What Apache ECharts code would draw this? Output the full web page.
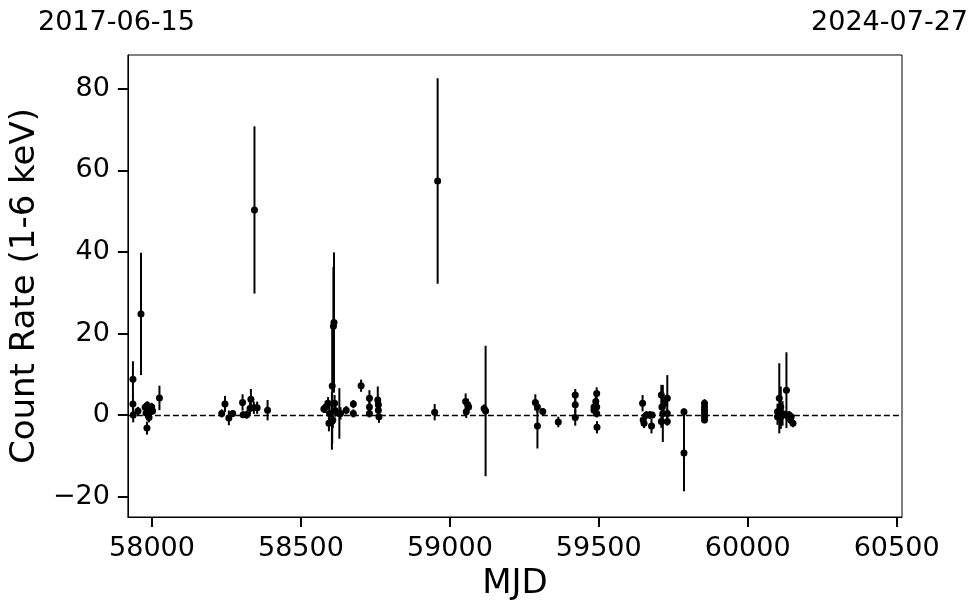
<!DOCTYPE html>
<html>
<head>
<meta charset="utf-8">
<script src="https://cdn.jsdelivr.net/npm/echarts@6/dist/echarts.min.js"></script>
<style>
html,body{margin:0;padding:0;background:#fff;}
#chart{width:980px;height:613px;}
</style>
</head>
<body>
<div id="chart"></div>
<script>
const mjd = [
57936,57936,57937,57963,57953,57977,57980,57983,57984,57986,57990,57993,57996,57999,58002,58025,
58234,58245,58258,58271,58304,58306,58318,58329,58332,58342,58344,58353,58388,
58577,58583,58591,58594,58596,58604,58605,58607,58609,58611,58613,58615,58629,58633,58652,58676,58676,58702,58730,58730,58730,58758,58760,58760,58762,
58949,58959,59053,59055,59060,59063,59115,59120,59287,59294,59294,59312,59364,59421,59421,59421,59484,59484,59490,59493,59493,59493,59494,
59647,59649,59652,59660,59671,59677,59679,59710,59710,59712,59715,59721,59730,59730,59730,59786,59786,59855,59855,59855,59855,59855,59855,
60100,60100,60106,60111,60111,60117,60128,60130,60139,60144,60146,60152
];
const rate = [
8.8,2.7,0.0,24.8,1.0,1.9,0.5,-3.2,2.4,1.2,-0.6,1.6,0.9,2.0,1.0,4.2,
0.4,2.7,-0.7,0.4,3.1,0.1,0.1,1.6,3.9,1.8,50.3,1.8,1.2,
1.5,2.0,2.9,-2.0,0.4,-1.5,7.1,-1.2,21.8,22.7,2.9,1.1,0.4,0.4,1.2,2.7,0.4,7.2,4.1,2.0,0.4,3.7,2.5,1.2,-0.4,
0.7,57.4,3.3,0.8,2.5,2.0,1.6,1.0,3.1,2.0,-2.7,0.9,-1.7,4.9,2.5,-0.6,2.0,1.2,3.3,5.3,2.0,0.4,-3.0,
2.9,-1.2,-2.0,0.0,0.0,-2.7,0.0,4.9,-1.6,2.0,0.4,2.9,4.1,0.4,-1.6,0.8,-9.3,2.9,2.0,1.2,0.4,-0.4,-1.2,
0.8,-0.4,4.1,2.0,-0.4,0.4,0.0,6.1,0.0,-1.2,-0.4,-2.0
];
const err = [
4.4,2.5,1.8,15.0,1.0,1.0,1.2,1.6,1.0,1.0,1.2,1.0,1.0,1.0,0.8,3.0,
1.0,2.0,1.8,0.8,2.0,0.8,1.0,1.5,2.5,1.5,20.5,1.5,2.5,
1.0,1.5,1.5,2.0,2.0,7.0,14.0,2.0,14.5,17.2,2.0,1.5,6.2,1.5,1.0,1.0,1.0,1.5,2.0,2.0,1.0,3.3,2.0,2.0,1.5,
2.0,25.2,2.0,1.5,1.5,1.0,1.0,16.0,2.0,1.5,5.5,0.8,1.3,1.5,2.0,2.0,1.5,1.5,2.0,1.5,1.5,1.0,1.5,
2.0,1.5,1.2,1.0,1.0,1.8,0.8,2.5,1.5,5.0,7.0,1.5,5.7,1.0,1.0,0.8,9.4,1.0,1.0,1.0,1.0,1.0,0.8,
2.0,2.0,8.6,5.0,3.0,3.0,1.0,9.3,1.0,1.0,1.0,1.0
];
const xTicks = [58000,58500,59000,59500,60000,60500];
const yTicks = [-20,0,20,40,60,80];
const startDate = '2017-06-15';
const endDate = '2024-07-27';
const xMin = 57919, xMax = 60518;
const yMin = -25, yMax = 88.3;

const pts = mjd.map((m,i)=>[m, rate[i]]);
const bars = mjd.map((m,i)=>[m, rate[i]-err[i], rate[i]+err[i]]);

const font = 'DejaVu Sans';
const chart = echarts.init(document.getElementById('chart'), null, {renderer:'canvas'});
chart.setOption({
  animation:false,
  backgroundColor:'#fff',
  grid:{left:127,right:78,top:55,bottom:96,show:true,borderColor:'#000',borderWidth:1,backgroundColor:'transparent'},
  graphic:[
    {type:'text',x:38,y:23,style:{text:startDate,font:'27px "DejaVu Sans"',fill:'#000',textAlign:'left',textVerticalAlign:'middle'}},
    {type:'text',x:968,y:23,style:{text:endDate,font:'27px "DejaVu Sans"',fill:'#000',textAlign:'right',textVerticalAlign:'middle'}}
  ],
  xAxis:{
    type:'value',min:xMin,max:xMax,
    name:'MJD',nameLocation:'middle',nameGap:50,
    nameTextStyle:{fontFamily:font,fontSize:34,color:'#000'},
    axisLine:{show:true,onZero:false,lineStyle:{color:'#000',width:1}},
    axisTick:{show:true,inside:false,length:10,lineStyle:{color:'#000',width:2},customValues:xTicks},
    axisLabel:{show:true,fontFamily:font,fontSize:27,color:'#000',margin:18,customValues:xTicks,
      formatter:v=>String(v)},
    splitLine:{show:false}
  },
  yAxis:{
    type:'value',min:yMin,max:yMax,
    name:'Count Rate (1-6 keV)',nameLocation:'middle',nameGap:83,nameRotate:90,
    nameTextStyle:{fontFamily:font,fontSize:34,color:'#000'},
    axisLine:{show:true,onZero:false,lineStyle:{color:'#000',width:1}},
    axisTick:{show:true,inside:false,length:10,lineStyle:{color:'#000',width:2},customValues:yTicks},
    axisLabel:{show:true,fontFamily:font,fontSize:27,color:'#000',margin:18,customValues:yTicks,
      formatter:v=> v<0 ? '\u2212'+Math.abs(v) : String(v)},
    splitLine:{show:false}
  },
  series:[
    {
      type:'custom',
      data:bars,
      clip:true,
      renderItem:function(params,api){
        const a = api.coord([api.value(0), api.value(1)]);
        const b = api.coord([api.value(0), api.value(2)]);
        return {type:'line',shape:{x1:a[0],y1:a[1],x2:b[0],y2:b[1]},style:{stroke:'#000',lineWidth:2}};
      },
      z:2
    },
    {
      type:'scatter',
      data:pts,
      symbol:'circle',
      symbolSize:7,
      itemStyle:{color:'#000',opacity:1},
      z:3,
      markLine:{
        silent:true,symbol:['none','none'],
        label:{show:false},
        lineStyle:{color:'#000',type:[6,3],width:1.4,opacity:1},
        data:[{yAxis:0}]
      }
    }
  ]
});
</script>
</body>
</html>
